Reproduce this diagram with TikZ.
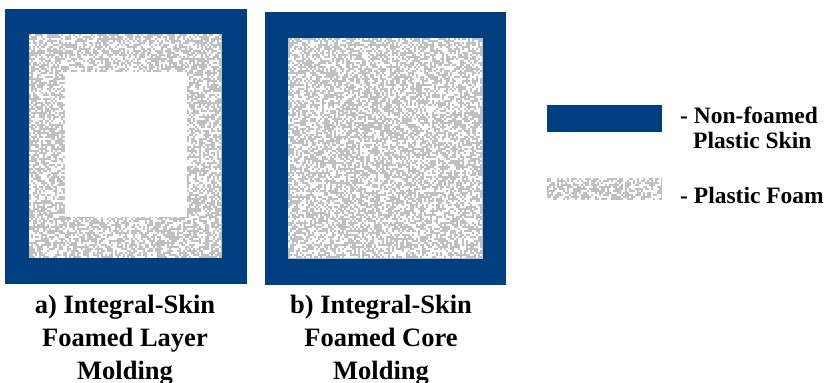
\documentclass[tikz,border=0pt]{standalone}
\usepackage{fontspec}
\setmainfont{Liberation Serif}
\definecolor{skinblue}{RGB}{0,63,127}
\definecolor{foamgray}{RGB}{192,192,192}
\tikzset{skin/.style={fill=skinblue},
	foam/.style={fill=foamgray},
	caption/.style={align=center, anchor=north, inner sep=0pt, font=\bfseries\fontsize{26.5}{33}\selectfont},
	legendtext/.style={align=left, anchor=base west, inner sep=0pt, font=\bfseries\fontsize{23.5}{25}\selectfont}}
\newcommand\foamfield[4]{%
	\fill[foam] (#1,#2) rectangle (#3,#4); %grey base
	\pgfmathtruncatemacro\nx{(#3-#1)/2-1}
	\pgfmathtruncatemacro\ny{(#4-#2)/2-1}
	\foreach \i in {0,...,\nx}
	\foreach \j in {0,...,\ny}{
		\pgfmathrnd
		\ifdim\pgfmathresult pt<0.45pt
		\fill[white] ({#1+2*\i},{#2+2*\j}) rectangle +(2,2); %random hole
		\fi}}
\begin{document}
\begin{tikzpicture}[x=1pt,y=-1pt]
	\useasboundingbox (0,0) rectangle (828,383);
	\pgfmathsetseed{4711}
	% a) foamed layer
	\fill[skin] (5,9) rectangle (247,284); %skin
	\foamfield{29}{34}{222}{258}
	\fill[white] (65,72) rectangle (187,217); %hollow core
	% b) foamed core
	\fill[skin] (265,12) rectangle (506,285); %skin
	\foamfield{288}{38}{483}{259}
	% legend
	\fill[skin] (547,105) rectangle (662,132);
	\foamfield{547}{178}{662}{200}
	\node[legendtext] (legSkin) at (680,148) {- Non-foamed\\\hspace*{13pt}Plastic Skin};
	\node[legendtext] (legFoam) at (680,203) {- Plastic Foam};
	% captions
	\node[caption] (capA) at (125,295) {a) Integral-Skin\\Foamed Layer\\Molding};
	\node[caption] (capB) at (381,295) {b) Integral-Skin\\Foamed Core\\Molding};
\end{tikzpicture}
\end{document}
